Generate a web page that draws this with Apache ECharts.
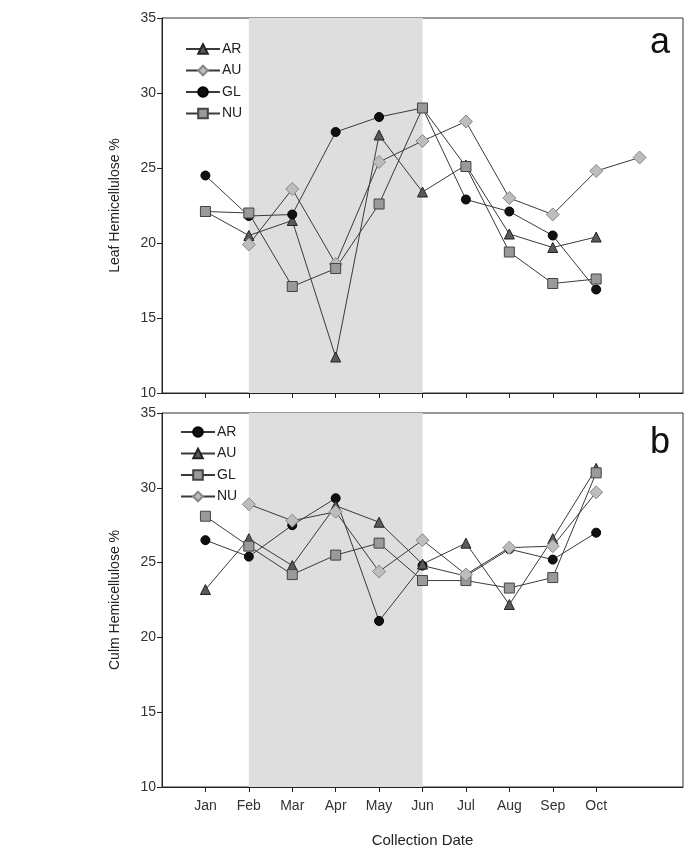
<!DOCTYPE html>
<html>
<head>
<meta charset="utf-8">
<script src="https://cdn.jsdelivr.net/npm/echarts@6/dist/echarts.min.js"></script>
<style>html,body{margin:0;padding:0;background:#fff}#c{width:695px;height:849px}</style>
</head>
<body>
<div id="c"></div>
<script>
// ---- data ----
var months = ['Jan','Feb','Mar','Apr','May','Jun','Jul','Aug','Sep','Oct','Nov'];
var yTicks = [10, 15, 20, 25, 30, 35];
// Panel a: Leaf hemicellulose % (Jan..Nov)
var leafAR = [22.1, 20.5, 21.5, 12.4, 27.2, 23.4, 25.2, 20.6, 19.7, 20.4];
var leafAU = [null, 19.9, 23.6, 18.6, 25.4, 26.8, 28.1, 23.0, 21.9, 24.8, 25.7];
var leafGL = [24.5, 21.8, 21.9, 27.4, 28.4, 29.0, 22.9, 22.1, 20.5, 16.9];
var leafNU = [22.1, 22.0, 17.1, 18.3, 22.6, 29.0, 25.1, 19.4, 17.3, 17.6];
// Panel b: Culm hemicellulose % (Jan..Oct)
var culmAR = [26.5, 25.4, 27.5, 29.3, 21.1, 24.8, 24.1, 25.9, 25.2, 27.0];
var culmAU = [23.2, 26.6, 24.8, 28.8, 27.7, 24.9, 26.3, 22.2, 26.6, 31.3];
var culmGL = [28.1, 26.1, 24.2, 25.5, 26.3, 23.8, 23.8, 23.3, 24.0, 31.0];
var culmNU = [null, 28.9, 27.8, 28.4, 24.4, 26.5, 24.2, 26.0, 26.1, 29.7];
var shadeFrom = 'Feb', shadeTo = 'Jun';

function pts(arr) {
  var out = [];
  arr.forEach(function (v, i) { if (v !== null) out.push([i + 1, v]); });
  return out;
}
var FONT = 'Liberation Sans, Arial, sans-serif';

var styles = {
  tri:  {symbol: 'triangle', symbolSize: 10, itemStyle: {color: '#5a5a5a', borderColor: '#222', borderWidth: 1}},
  dia:  {symbol: 'diamond', symbolSize: 13, itemStyle: {color: '#bdbdbd', borderColor: '#888', borderWidth: 1}},
  circ: {symbol: 'circle', symbolSize: 9, itemStyle: {color: '#111', borderColor: '#000', borderWidth: 1}},
  sq:   {symbol: 'rect', symbolSize: 10, itemStyle: {color: '#9a9a9a', borderColor: '#444', borderWidth: 1}}
};

function mk(name, data, st, panel) {
  return {
    type: 'line', name: name, xAxisIndex: panel, yAxisIndex: panel,
    data: pts(data), symbol: st.symbol, symbolSize: st.symbolSize,
    itemStyle: st.itemStyle, lineStyle: {color: '#3a3a3a', width: 1},
    showSymbol: true, z: 3
  };
}

function yAxisCfg(idx, title) {
  return {
    type: 'value', gridIndex: idx, min: 10, max: 35, interval: 5,
    name: title, nameLocation: 'middle', nameGap: 40,
    nameTextStyle: {fontFamily: FONT, fontSize: 14, color: '#222'},
    axisLine: {show: true, lineStyle: {color: '#222', width: 1}},
    axisTick: {show: true, inside: false, length: 5, lineStyle: {color: '#222'}},
    axisLabel: {fontFamily: FONT, fontSize: 14, color: '#333', margin: 6,
      customValues: yTicks},
    splitLine: {show: false}
  };
}

var monthIdx = function (m) { return months.indexOf(m) + 1; };

function legendCfg(names, left, top) {
  return {data: names, orient: 'vertical', left: left, top: top,
    itemWidth: 34, itemHeight: 12, itemGap: 7.5, selectedMode: false,
    formatter: function (n) { return n.split('_')[0]; },
    textStyle: {fontFamily: FONT, fontSize: 14, color: '#222', padding: [0, 0, 0, -3]}};
}

var option = {
  animation: false,
  backgroundColor: '#fff',
  title: [
    {text: 'a', left: 645, top: 20, textStyle: {fontFamily: FONT, fontSize: 36, fontWeight: 'normal', color: '#111'}},
    {text: 'b', left: 645, top: 420, textStyle: {fontFamily: FONT, fontSize: 36, fontWeight: 'normal', color: '#111'}}
  ],
  grid: [
    {left: 162, right: 12, top: 18, height: 375, show: true, borderColor: '#333', borderWidth: 1, backgroundColor: 'transparent'},
    {left: 162, right: 12, top: 413, height: 375, show: true, borderColor: '#333', borderWidth: 1, backgroundColor: 'transparent'}
  ],
  legend: [
    legendCfg(['AR_a', 'AU_a', 'GL_a', 'NU_a'], 180, 37),
    legendCfg(['AR_b', 'AU_b', 'GL_b', 'NU_b'], 175, 420)
  ],
  xAxis: [
    {type: 'value', gridIndex: 0, min: 0, max: 12,
     axisLine: {show: true, lineStyle: {color: '#222'}},
     axisTick: {show: true, length: 5, lineStyle: {color: '#222'}, customValues: [1,2,3,4,5,6,7,8,9,10,11]},
     axisLabel: {show: false},
     splitLine: {show: false}},
    {type: 'value', gridIndex: 1, min: 0, max: 12,
     name: 'Collection Date', nameLocation: 'middle', nameGap: 46,
     nameTextStyle: {fontFamily: FONT, fontSize: 15, color: '#222'},
     axisLine: {show: true, lineStyle: {color: '#222'}},
     axisTick: {show: true, length: 5, lineStyle: {color: '#222'}, customValues: [1,2,3,4,5,6,7,8,9,10]},
     axisLabel: {show: true, fontFamily: FONT, fontSize: 14, color: '#333', margin: 12,
       customValues: [1,2,3,4,5,6,7,8,9,10],
       formatter: function (v) { return months[Math.round(v) - 1] || ''; }},
     splitLine: {show: false}}
  ],
  yAxis: [yAxisCfg(0, 'Leaf Hemicellulose %'), yAxisCfg(1, 'Culm Hemicellulose %')],
  series: [
    {type: 'line', xAxisIndex: 0, yAxisIndex: 0, data: [], silent: true,
     markArea: {silent: true, itemStyle: {color: '#dedede'}, data: [[{xAxis: monthIdx(shadeFrom)}, {xAxis: monthIdx(shadeTo)}]]}},
    {type: 'line', xAxisIndex: 1, yAxisIndex: 1, data: [], silent: true,
     markArea: {silent: true, itemStyle: {color: '#dedede'}, data: [[{xAxis: monthIdx(shadeFrom)}, {xAxis: monthIdx(shadeTo)}]]}},
    mk('AR_a', leafAR, styles.tri, 0),
    mk('AU_a', leafAU, styles.dia, 0),
    mk('GL_a', leafGL, styles.circ, 0),
    mk('NU_a', leafNU, styles.sq, 0),
    mk('AR_b', culmAR, styles.circ, 1),
    mk('AU_b', culmAU, styles.tri, 1),
    mk('GL_b', culmGL, styles.sq, 1),
    mk('NU_b', culmNU, styles.dia, 1)
  ]
};
var chart = echarts.init(document.getElementById('c'), null, {renderer: 'canvas'});
chart.setOption(option);
</script>
</body>
</html>
